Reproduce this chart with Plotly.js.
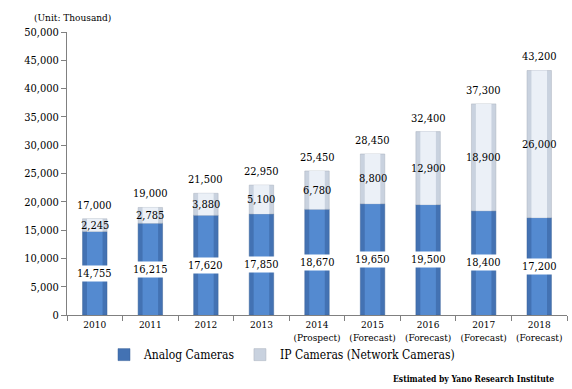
<!DOCTYPE html>
<html>
<head>
<meta charset="utf-8">
<script src="https://cdn.plot.ly/plotly-3.0.1.min.js"></script>
<style>
html,body{margin:0;padding:0;background:#fff;}
#chart{width:572px;height:389px;}
</style>
</head>
<body>
<div id="chart"></div>
<script>
var years = ["2010","2011","2012","2013","2014","2015","2016","2017","2018"];
var subLabels = ["","","","","(Prospect)","(Forecast)","(Forecast)","(Forecast)","(Forecast)"];
var analog = [14755,16215,17620,17850,18670,19650,19500,18400,17200];
var ip = [2245,2785,3880,5100,6780,8800,12900,18900,26000];
var totals = [17000,19000,21500,22950,25450,28450,32400,37300,43200];
var yTicks = [0,5000,10000,15000,20000,25000,30000,35000,40000,45000,50000];

function fmt(v){ return v.toLocaleString("en-US"); }

var FONT = "DejaVu Serif Condensed";
var idx = years.map(function(_, i){ return i; });
var bounds = idx.map(function(i){ return i - 0.5; }).concat([idx.length - 0.5]);
var tickText = years.map(function(y,i){ return subLabels[i] ? y + "<br>" + subLabels[i] : y; });

var BW = 0.44, BWI = 0.28;
var traces = [
  {
    type: "bar", name: "Analog Cameras", x: idx, y: analog, width: BW, base: 0,
    marker: {color: "#4372B3", line: {color: "#3A6399", width: 0.5}},
    hoverinfo: "skip", legendgroup: "a"
  },
  {
    type: "bar", name: "Analog Cameras", x: idx, y: analog, width: BWI, base: 0,
    marker: {color: "#548AD0", line: {width: 0}},
    hoverinfo: "skip", showlegend: false, legendgroup: "a"
  },
  {
    type: "bar", name: "IP Cameras (Network Cameras)", x: idx, y: ip, width: BW, base: analog,
    marker: {color: "#C9D2DF", line: {color: "#A9B1BC", width: 0.5}},
    hoverinfo: "skip", legendgroup: "b"
  },
  {
    type: "bar", name: "IP Cameras (Network Cameras)", x: idx, y: ip, width: BWI, base: analog,
    marker: {color: "#EBF0F7", line: {width: 0}},
    hoverinfo: "skip", showlegend: false, legendgroup: "b"
  }
];

var annotations = [];
idx.forEach(function(xi, i){
  annotations.push({
    x: xi, y: analog[i] / 2, xref: "x", yref: "y", text: fmt(analog[i]),
    showarrow: false, bgcolor: "#ffffff", borderpad: 1,
    font: {family: FONT, size: 11, color: "#000"}
  });
  annotations.push({
    x: xi, y: analog[i] + ip[i] / 2, xref: "x", yref: "y", text: fmt(ip[i]),
    showarrow: false,
    font: {family: FONT, size: 11, color: "#000"}
  });
  annotations.push({
    x: xi, y: totals[i], xref: "x", yref: "y", text: fmt(totals[i]),
    showarrow: false, yanchor: "bottom", yshift: 5,
    font: {family: FONT, size: 11, color: "#000"}
  });
});
annotations.push({
  x: -0.07, y: 1.05, xref: "paper", yref: "paper", xanchor: "left", yanchor: "middle",
  text: "(Unit: Thousand)", showarrow: false,
  font: {family: FONT, size: 10, color: "#000"}
});
annotations.push({
  x: 0.978, y: -0.225, xref: "paper", yref: "paper", xanchor: "right", yanchor: "middle",
  text: "<b>Estimated by Yano Research Institute</b>", showarrow: false,
  font: {family: FONT, size: 8.5, color: "#000"}
});

var layout = {
  width: 572, height: 389,
  margin: {l: 67, r: 5, t: 32, b: 73.5, pad: 0},
  paper_bgcolor: "#fff", plot_bgcolor: "#fff",
  barmode: "overlay",
  showlegend: true,
  legend: {
    orientation: "h", x: 0.43, xanchor: "center", y: -0.14, yanchor: "middle",
    font: {family: FONT, size: 12, color: "#000"},
    bgcolor: "rgba(0,0,0,0)", traceorder: "normal"
  },
  xaxis: {
    range: [-0.5, 8.5], tickmode: "array", tickvals: idx, ticktext: tickText, tickangle: 0,
    showline: true, linecolor: "#808080", linewidth: 1,
    ticks: "", showgrid: false, zeroline: false,
    tickfont: {family: FONT, size: 10, color: "#000"},
    minor: {tickmode: "array", tickvals: bounds, ticks: "outside", ticklen: 5, tickcolor: "#808080", showgrid: false}
  },
  yaxis: {
    range: [0, 50000], tickmode: "array", tickvals: yTicks,
    ticktext: yTicks.map(fmt),
    showline: true, linecolor: "#808080", linewidth: 1,
    ticks: "outside", ticklen: 5, tickcolor: "#808080",
    showgrid: false, zeroline: false,
    tickfont: {family: FONT, size: 11, color: "#000"}
  },
  annotations: annotations
};

Plotly.newPlot("chart", traces, layout, {displayModeBar: false, staticPlot: true});
</script>
</body>
</html>
